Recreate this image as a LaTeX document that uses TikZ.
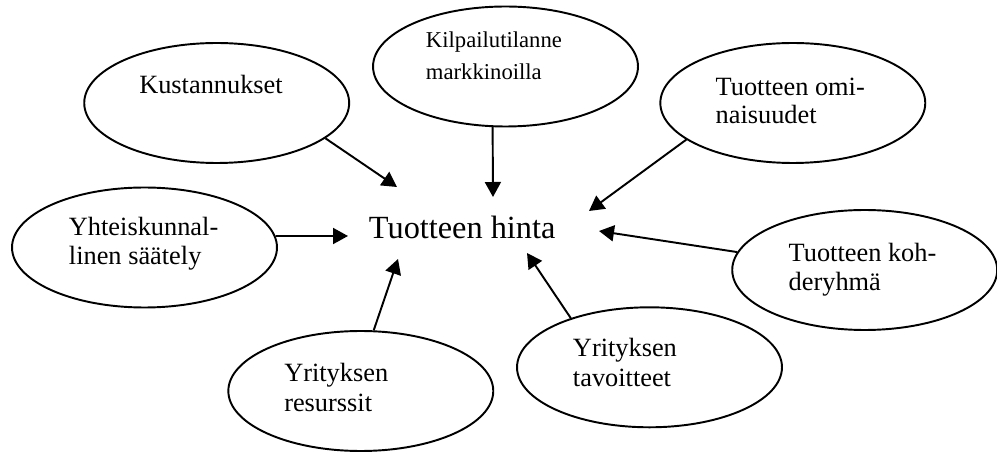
\documentclass[tikz,border=0pt]{standalone}
\usepackage{fontspec}
\setmainfont{Liberation Serif}
\usetikzlibrary{arrows.meta,shapes.geometric}

\begin{document}
\begin{tikzpicture}[x=0.02cm,y=-0.02cm,>={Triangle[length=0.3cm,width=0.32cm]},line width=1.1pt,
 oval/.style={draw,ellipse,minimum width=5.3cm,minimum height=2.4cm,inner sep=0pt},
 txt/.style={anchor=base west,inner sep=0pt,align=left,font=\fontsize{15}{17}\selectfont},
 smalltxt/.style={txt,font=\fontsize{12.9}{18.5}\selectfont}]
\useasboundingbox (0,0) rectangle (997,452);
\node[oval](kust) at (216.7,103){};
\node[oval](kilp) at (505.5,66.5){};
\node[oval](omin) at (792.8,103){};
\node[oval](yhte) at (144.5,247.5){};
\node[oval](kohd) at (864.7,270){};
\node[oval](tavo) at (649.5,367.3){};
\node[oval](resu) at (360.8,391){};
\node[txt](kustT) at (138.3,93.3){Kustannukset};
\node[smalltxt](kilpT) at (425,80){Kilpailutilanne\\markkinoilla};
\node[txt,font=\fontsize{15}{16}\selectfont](ominT) at (714.7,124){Tuotteen omi-\\naisuudet};
\node[txt](yhteT) at (68,265){Yhteiskunnal-\\linen säätely};
\node[txt](kohdT) at (787.7,291){Tuotteen koh-\\deryhmä};
\node[txt](tavoT) at (572,386.7){Yrityksen\\tavoitteet};
\node[txt](resuT) at (283.3,411.7){Yrityksen\\resurssit};
\node[txt,font=\fontsize{18.4}{22}\selectfont](hinta) at (368,239){Tuotteen hinta};
\coordinate(pKust) at (397,187);
\coordinate(pKilp) at (493,197);
\coordinate(pOmin) at (589,211);
\coordinate(pYhte) at (348,236);
\coordinate(pKohd) at (599,231);
\coordinate(pTavo) at (527,253);
\coordinate(pResu) at (398,259);
\draw[->](kust.-18)--(pKust);
\draw[->](kilp.-102)--(pKilp);
\draw[->](omin.-161)--(pOmin);
\draw[->](yhte.5)--(pYhte);
\draw[->](kohd.172)--(pKohd);
\draw[->](tavo.148)--(pTavo);
\draw[->](resu.78)--(pResu);
\end{tikzpicture}
\end{document}
